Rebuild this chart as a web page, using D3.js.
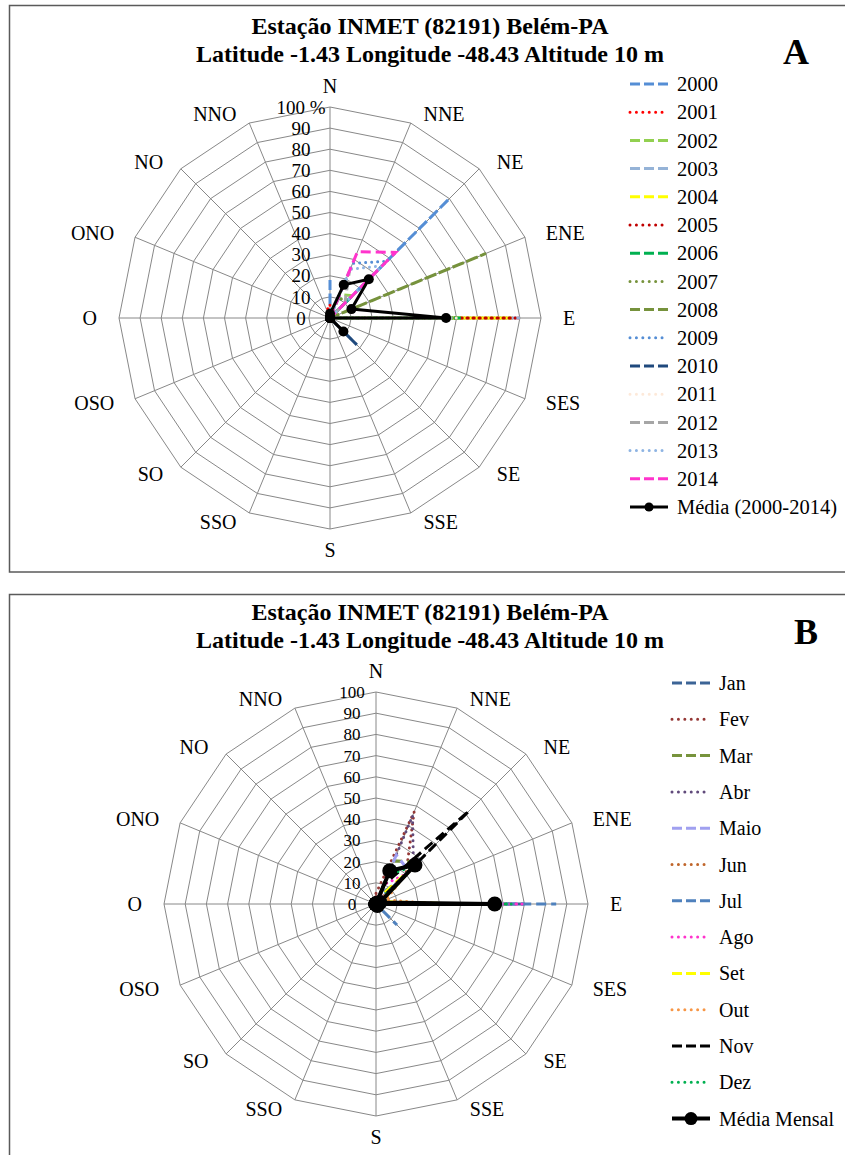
<!DOCTYPE html>
<html><head><meta charset="utf-8">
<script src="https://cdn.jsdelivr.net/npm/d3@7/dist/d3.min.js"></script>
<style>
body{margin:0;background:#fff;}
svg{display:block;}
svg text{font-family:"Liberation Serif","Times New Roman","DejaVu Serif",serif;}
</style></head>
<body>
<svg id="c" width="845" height="1155"></svg>
<script>
// ---------- DATA ----------
const directions = ["N","NNE","NE","ENE","E","SES","SE","SSE","S","SSO","SO","OSO","O","ONO","NO","NNO"];
const radialTicks = [0,10,20,30,40,50,60,70,80,90,100];
const titleLine1 = "Estação  INMET (82191) Belém-PA";
const titleLine2 = "Latitude -1.43  Longitude -48.43  Altitude 10 m";

// Chart A: annual series (% frequency by direction)
const yearNames = ["2000","2001","2002","2003","2004","2005","2006","2007","2008","2009","2010","2011","2012","2013","2014"];
const y2000 = [18,0,80,0,0,0,0,0,0,0,0,0,0,0,0,0];
const y2001 = [6,0,0,0,90,0,0,0,0,0,0,0,0,0,0,4];
const y2002 = [0,12,15,0,60,0,0,0,0,0,0,0,0,0,0,0];
const y2003 = [0,0,0,0,90,0,0,0,0,0,0,0,0,0,0,0];
const y2004 = [0,0,0,0,86,0,0,0,0,0,0,0,0,0,0,0];
const y2005 = [0,0,0,0,88,0,0,0,0,0,0,0,0,0,0,0];
const y2006 = [0,10,12,0,62,0,0,0,0,0,0,0,0,0,0,0];
const y2007 = [0,12,9,0,0,0,0,0,0,0,0,0,0,0,0,0];
const y2008 = [0,0,0,80,0,0,0,0,0,0,0,0,0,0,0,0];
const y2009 = [0,28,38,0,0,0,0,0,0,0,0,0,0,0,0,0];
const y2010 = [0,0,0,0,0,0,18,0,0,0,0,0,0,0,0,0];
const y2011 = [0,0,0,0,60,0,0,0,0,0,0,0,0,0,0,0];
const y2012 = [0,24,10,0,58,0,0,0,0,0,0,0,0,0,0,0];
const y2013 = [0,25,35,0,0,0,0,0,0,0,0,0,0,0,0,0];
const y2014 = [0,34,44,0,0,0,0,0,0,0,0,0,0,0,0,0];
const meanYears = [2,17,26,11,55,0,9,0,0,0,0,0,0,0,0,0];
const yearValues = [y2000,y2001,y2002,y2003,y2004,y2005,y2006,y2007,y2008,y2009,y2010,y2011,y2012,y2013,y2014];
const yearColors = ["#558ED5","#FF0000","#92D050","#95B3D7","#FFFF00","#C00000","#00B050","#77933C","#76923C","#558ED5","#1F497D","#FDE9D9","#A6A6A6","#8EB4E3","#FF33CC"];
const yearStyles = ["dash","dot","dash","dash","dash","dot","dash","dot","dash","dot","dash","dot","dash","dot","dash"];
const meanYearsName = "Média (2000-2014)";

// Chart B: monthly series
const monthNames = ["Jan","Fev","Mar","Abr","Maio","Jun","Jul","Ago","Set","Out","Nov","Dez"];
const mJan = [0,15,30,0,70,0,0,0,0,0,0,0,0,0,0,0];
const mFev = [5,47,20,0,60,0,0,0,0,0,0,0,0,0,0,0];
const mMar = [0,22,28,0,64,0,0,0,0,0,0,0,0,0,0,0];
const mAbr = [0,45,25,0,55,0,0,0,0,0,0,0,0,0,0,0];
const mMaio = [0,25,22,0,65,0,0,0,0,0,0,0,0,0,0,0];
const mJun = [0,5,15,3,40,0,0,0,0,0,0,0,0,0,0,0];
const mJul = [0,5,15,0,85,0,14,0,0,0,0,0,0,0,0,0];
const mAgo = [0,10,20,0,69,0,0,0,0,0,0,0,0,0,0,0];
const mSet = [0,3,25,3,40,0,0,0,0,0,0,0,0,0,0,0];
const mOut = [0,0,20,5,30,0,0,0,0,0,0,0,0,0,0,0];
const mNov = [0,10,62,0,50,0,0,0,0,0,0,0,0,0,0,0];
const mDez = [0,15,25,0,64,0,0,0,0,0,0,0,0,0,0,0];
const meanMonths = [0,17,26,2,56,0,1,0,0,0,0,0,0,0,0,0];
const monthValues = [mJan,mFev,mMar,mAbr,mMaio,mJun,mJul,mAgo,mSet,mOut,mNov,mDez];
const monthColors = ["#3C6496","#953735","#77933C","#604A7B","#A0A0F0","#C0662B","#4F81BD","#FF33CC","#FFFF00","#F79646","#000000","#00B050"];
const monthStyles = ["dash","dot","dash","dot","dash","dot","dash","dot","dash","dot","dash","dot"];
const meanMonthsName = "Média Mensal";

// ---------- DRAW ----------
const svg = d3.select("#c");
const N = directions.length;
const ang = i => i * 2 * Math.PI / N;

function dashFor(style){ return style === "dash" ? "10,5" : "0.01,6"; }
function capFor(style){ return style === "dash" ? "butt" : "round"; }

function drawPanel(cfg){
  const g = svg.append("g");
  // frame
  g.append("rect").attr("x",cfg.frame[0]).attr("y",cfg.frame[1]).attr("width",cfg.frame[2]).attr("height",cfg.frame[3])
    .attr("fill","#fff").attr("stroke","#5a5a5a").attr("stroke-width",1.5);
  // titles
  g.append("text").attr("x",cfg.titleX).attr("y",cfg.titleY).attr("text-anchor","middle")
    .attr("font-size",24).attr("font-weight","bold").text(titleLine1);
  g.append("text").attr("x",cfg.titleX).attr("y",cfg.titleY+28).attr("text-anchor","middle")
    .attr("font-size",24).attr("font-weight","bold").text(titleLine2);
  g.append("text").attr("x",cfg.letterX).attr("y",cfg.letterY).attr("text-anchor","middle")
    .attr("font-size",36).attr("font-weight","bold").text(cfg.letter);

  const r = d3.scaleLinear().domain([0,100]).range([0,cfg.R]);
  const cg = g.append("g").attr("transform",`translate(${cfg.cx},${cfg.cy})`);

  // rings
  radialTicks.filter(t=>t>0).forEach(t=>{
    const pts = directions.map((d,i)=>[Math.sin(ang(i))*r(t), -Math.cos(ang(i))*r(t)]);
    cg.append("path").attr("d", d3.line().curve(d3.curveLinearClosed)(pts))
      .attr("fill","none").attr("stroke","#888").attr("stroke-width",1);
  });
  // spokes
  directions.forEach((d,i)=>{
    cg.append("line").attr("x1",0).attr("y1",0)
      .attr("x2",Math.sin(ang(i))*r(100)).attr("y2",-Math.cos(ang(i))*r(100))
      .attr("stroke","#888").attr("stroke-width",1);
  });
  // tick labels
  radialTicks.forEach(t=>{
    cg.append("text").attr("x",cfg.tickX).attr("y",-r(t)).attr("dy","0.35em")
      .attr("text-anchor","middle").attr("font-size",cfg.tickSize)
      .text(t===100 ? t + cfg.tickSuffix : t);
  });
  // direction labels
  directions.forEach((d,i)=>{
    const a = ang(i), ux = Math.sin(a), uy = -Math.cos(a);
    const t = cg.append("text").attr("font-size",20).attr("text-anchor","middle").attr("dy","0.35em").text(d);
    const w = t.node().getComputedTextLength();
    let x, y;
    if (Math.abs(ux) < 0.01){ x = 0; y = uy*(cfg.R+15) + Math.sign(uy)*6; }
    else { x = ux*(cfg.R+15) + Math.sign(ux)*(w/2+7); y = uy*(cfg.R+15) - uy*5; }
    t.attr("x",x).attr("y",y);
  });

  const line = d3.lineRadial().angle((d,i)=>ang(i)).radius(d=>r(d)).curve(d3.curveLinearClosed);
  cfg.values.forEach((vals,k)=>{
    cg.append("path").attr("d",line(vals)).attr("fill","none")
      .attr("stroke",cfg.colors[k]).attr("stroke-width",cfg.sw)
      .attr("stroke-dasharray",dashFor(cfg.styles[k])).attr("stroke-linecap",capFor(cfg.styles[k]));
  });
  // mean
  cg.append("path").attr("d",line(cfg.mean)).attr("fill","none").attr("stroke","#000").attr("stroke-width",cfg.meanW)
    .attr("stroke-linejoin","round");
  cg.selectAll("circle.m").data(cfg.mean).enter().append("circle")
    .attr("cx",(d,i)=>Math.sin(ang(i))*r(d)).attr("cy",(d,i)=>-Math.cos(ang(i))*r(d))
    .attr("r",cfg.markR).attr("fill","#000");

  // legend
  const names = cfg.names.concat([cfg.meanName]);
  names.forEach((nm,k)=>{
    const y = cfg.legY + k*cfg.legStep;
    const isMean = k === cfg.names.length;
    const l = g.append("line").attr("x1",cfg.legX).attr("x2",cfg.legX+38).attr("y1",y).attr("y2",y);
    if (isMean){
      l.attr("stroke","#000").attr("stroke-width",cfg.meanW);
      g.append("circle").attr("cx",cfg.legX+19).attr("cy",y).attr("r",cfg.legMarkR).attr("fill","#000");
    } else {
      l.attr("stroke",cfg.colors[k]).attr("stroke-width",3)
        .attr("stroke-dasharray", cfg.styles[k]==="dash" ? "10,4" : "0.01,6.4")
        .attr("stroke-linecap",capFor(cfg.styles[k]));
    }
    g.append("text").attr("x",cfg.legX+47).attr("y",y).attr("dy","0.35em").attr("font-size",cfg.legSize).text(nm);
  });
}

drawPanel({
  frame:[9.5,5.5,850,566.5], titleX:430, titleY:34, letter:"A", letterX:796, letterY:64,
  cx:330, cy:318, R:211, tickX:-29, tickSize:19, tickSuffix:" %",
  values:yearValues, colors:yearColors, styles:yearStyles, names:yearNames,
  mean:meanYears, meanName:meanYearsName, sw:3, meanW:3, markR:5, legMarkR:4.5,
  legX:630, legY:84, legStep:28.2, legSize:20.5
});
drawPanel({
  frame:[9.5,594.5,850,570], titleX:430, titleY:620, letter:"B", letterX:806, letterY:644,
  cx:376, cy:904, R:212, tickX:-24, tickSize:17, tickSuffix:"",
  values:monthValues, colors:monthColors, styles:monthStyles, names:monthNames,
  mean:meanMonths, meanName:meanMonthsName, sw:3, meanW:4, markR:7.5, legMarkR:6.5,
  legX:672, legY:683, legStep:36.3, legSize:20
});
</script>
</body></html>
